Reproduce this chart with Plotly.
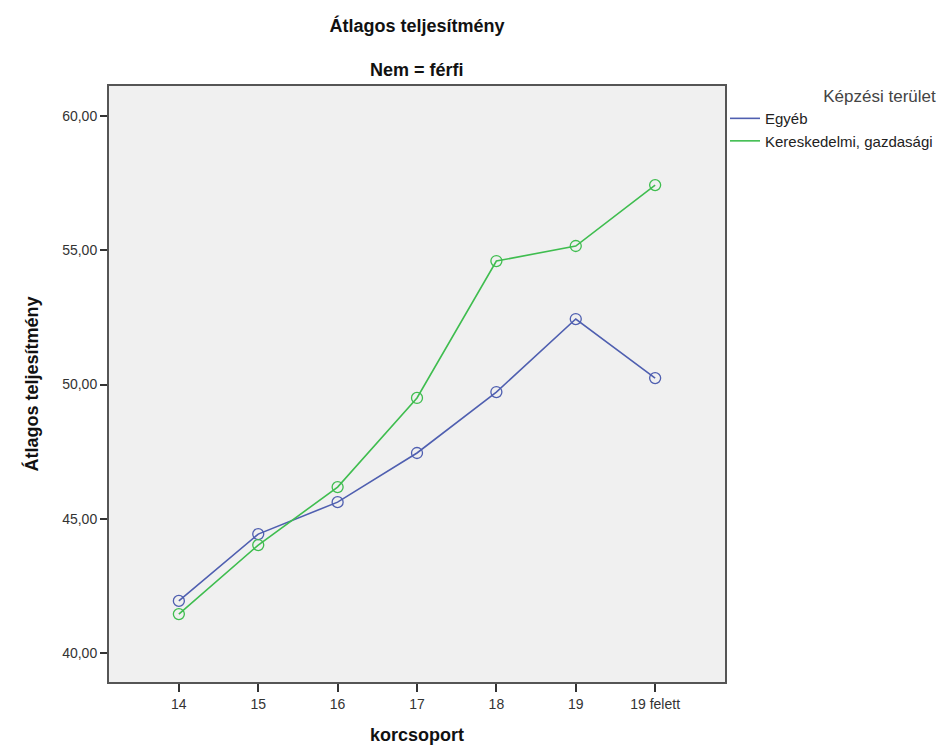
import plotly.graph_objects as go

# data
age_groups = ["14", "15", "16", "17", "18", "19", "19 felett"]
egyeb = [41.94, 44.43, 45.62, 47.45, 49.72, 52.44, 50.24]
kereskedelmi = [41.45, 44.02, 46.18, 49.50, 54.60, 55.16, 57.43]
y_ticks = [40, 45, 50, 55, 60]
y_tick_labels = ["40,00", "45,00", "50,00", "55,00", "60,00"]

series = [
    ("Egyéb", egyeb, "#4f5fb0"),
    ("Kereskedelmi, gazdasági", kereskedelmi, "#3fbd4f"),
]

FONT = "Liberation Sans, Arial, sans-serif"

fig = go.Figure()
for name, vals, color in series:
    fig.add_trace(go.Scatter(
        x=age_groups, y=vals, name=name, mode="lines",
        line=dict(color=color, width=1.6),
        hoverinfo="skip",
    ))
for name, vals, color in series:
    fig.add_trace(go.Scatter(
        x=age_groups, y=vals, name=name, mode="markers",
        marker=dict(symbol="circle-open", size=11, color=color, line=dict(width=1.3)),
        showlegend=False,
    ))

fig.update_layout(
    width=948, height=749,
    margin=dict(l=101, r=231, t=78, b=75),
    paper_bgcolor="white",
    plot_bgcolor="#f0f0f0",
    font=dict(family=FONT, size=13, color="#222"),
    title=dict(text="<b>Átlagos teljesítmény</b>", x=0.5 * (101 + 717) / 948, xanchor="center",
               y=1 - 18 / 749, yanchor="middle", font=dict(size=18, color="#111")),
    xaxis=dict(
        type="category", range=[-0.88, 6.88],
        showline=True, linecolor="#555", linewidth=2, mirror=True,
        ticks="outside", ticklen=8, tickwidth=2, tickcolor="#333",
        showgrid=False, zeroline=False,
        tickfont=dict(size=14, color="#333"),
        title=dict(text="<b>korcsoport</b>", font=dict(size=18, color="#111"), standoff=18),
    ),
    yaxis=dict(
        range=[38.92, 61.12],
        tickvals=y_ticks, ticktext=y_tick_labels,
        showline=True, linecolor="#555", linewidth=2, mirror=True,
        ticks="outside", ticklen=7, tickwidth=2, tickcolor="#333",
        showgrid=False, zeroline=False,
        tickfont=dict(size=14, color="#333"),
        title=dict(text="<b>Átlagos teljesítmény</b>", font=dict(size=18, color="#111"), standoff=19),
    ),
    legend=dict(
        x=1.0, xanchor="left", y=1 + 6 / 596, yanchor="top",
        bgcolor="rgba(0,0,0,0)", borderwidth=0,
        font=dict(size=15, color="#222"),
        title=dict(text="Képzési terület", side="top right", font=dict(size=17, color="#444")),
        tracegroupgap=0, itemwidth=30,
    ),
    annotations=[dict(
        text="<b>Nem = férfi</b>", xref="paper", yref="paper",
        x=0.5, y=1, xanchor="center", yanchor="middle", yshift=16,
        showarrow=False, font=dict(size=18, color="#111"),
    )],
)

fig.write_html("out.html")
